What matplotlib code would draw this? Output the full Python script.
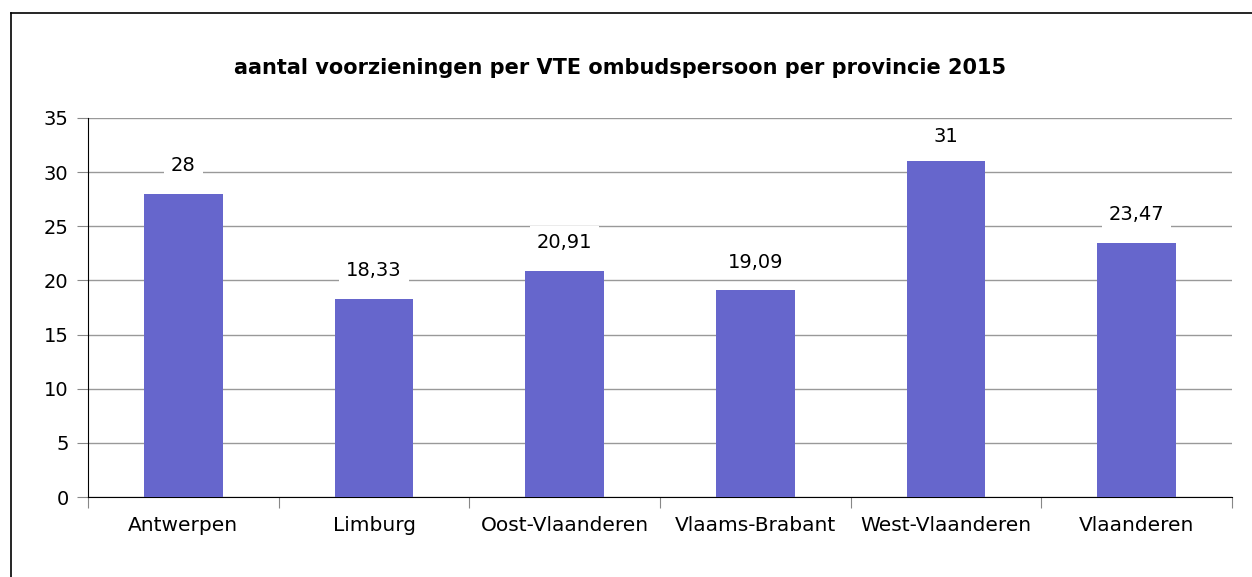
import matplotlib
matplotlib.use("Agg")
import matplotlib.pyplot as plt
from matplotlib.lines import Line2D

provincies = ["Antwerpen", "Limburg", "Oost-Vlaanderen", "Vlaams-Brabant",
              "West-Vlaanderen", "Vlaanderen"]
waarden = [28, 18.33, 20.91, 19.09, 31, 23.47]
labels = ["28", "18,33", "20,91", "19,09", "31", "23,47"]
y_ticks = [0, 5, 10, 15, 20, 25, 30, 35]

plt.rcParams["font.family"] = ["DejaVu Sans"]

fig = plt.figure(figsize=(12.52, 5.77), dpi=100)
ax = fig.add_axes([0.0703, 0.1386, 0.9137, 0.6569])

x = list(range(len(provincies)))
ax.bar(x, waarden, width=0.414, color="#6666cc", zorder=3)

for xi, v, lab in zip(x, waarden, labels):
    ax.text(xi, min(v + 2.6, 33.3), lab, ha="center", va="center", fontsize=14,
            zorder=4, bbox=dict(facecolor="white", edgecolor="none", pad=5))

ax.set_xlim(-0.5, len(provincies) - 0.5)
ax.set_ylim(0, 35)
ax.set_yticks(y_ticks)
ax.set_yticklabels([str(t) for t in y_ticks], fontsize=14)
ax.yaxis.grid(True, color="#999999", linewidth=1, zorder=0)

ax.set_xticks([i - 0.5 for i in range(len(provincies) + 1)])
ax.set_xticklabels([])
ax.set_xticks(x, minor=True)
ax.set_xticklabels(provincies, minor=True, fontsize=14.5)
ax.tick_params(axis="x", which="minor", length=0, pad=14)
ax.tick_params(axis="x", which="major", length=8, color="#888888", direction="out")
ax.tick_params(axis="y", length=8, color="#888888", direction="out", pad=6)

for side in ["top", "right"]:
    ax.spines[side].set_visible(False)
ax.spines["left"].set_color("black")
ax.spines["bottom"].set_color("black")

fig.text(0.495, 0.882, "aantal voorzieningen per VTE ombudspersoon per provincie 2015",
         ha="center", va="center", fontsize=15, fontweight="bold")

# rand van de grafiek (links en boven)
fig.add_artist(Line2D([11 / 1252, 11 / 1252], [0, 1 - 13 / 577], color="black",
                      linewidth=1.2, transform=fig.transFigure))
fig.add_artist(Line2D([11 / 1252, 1], [1 - 13 / 577, 1 - 13 / 577], color="black",
                      linewidth=1.2, transform=fig.transFigure))

fig.savefig("out.png", dpi=100)
